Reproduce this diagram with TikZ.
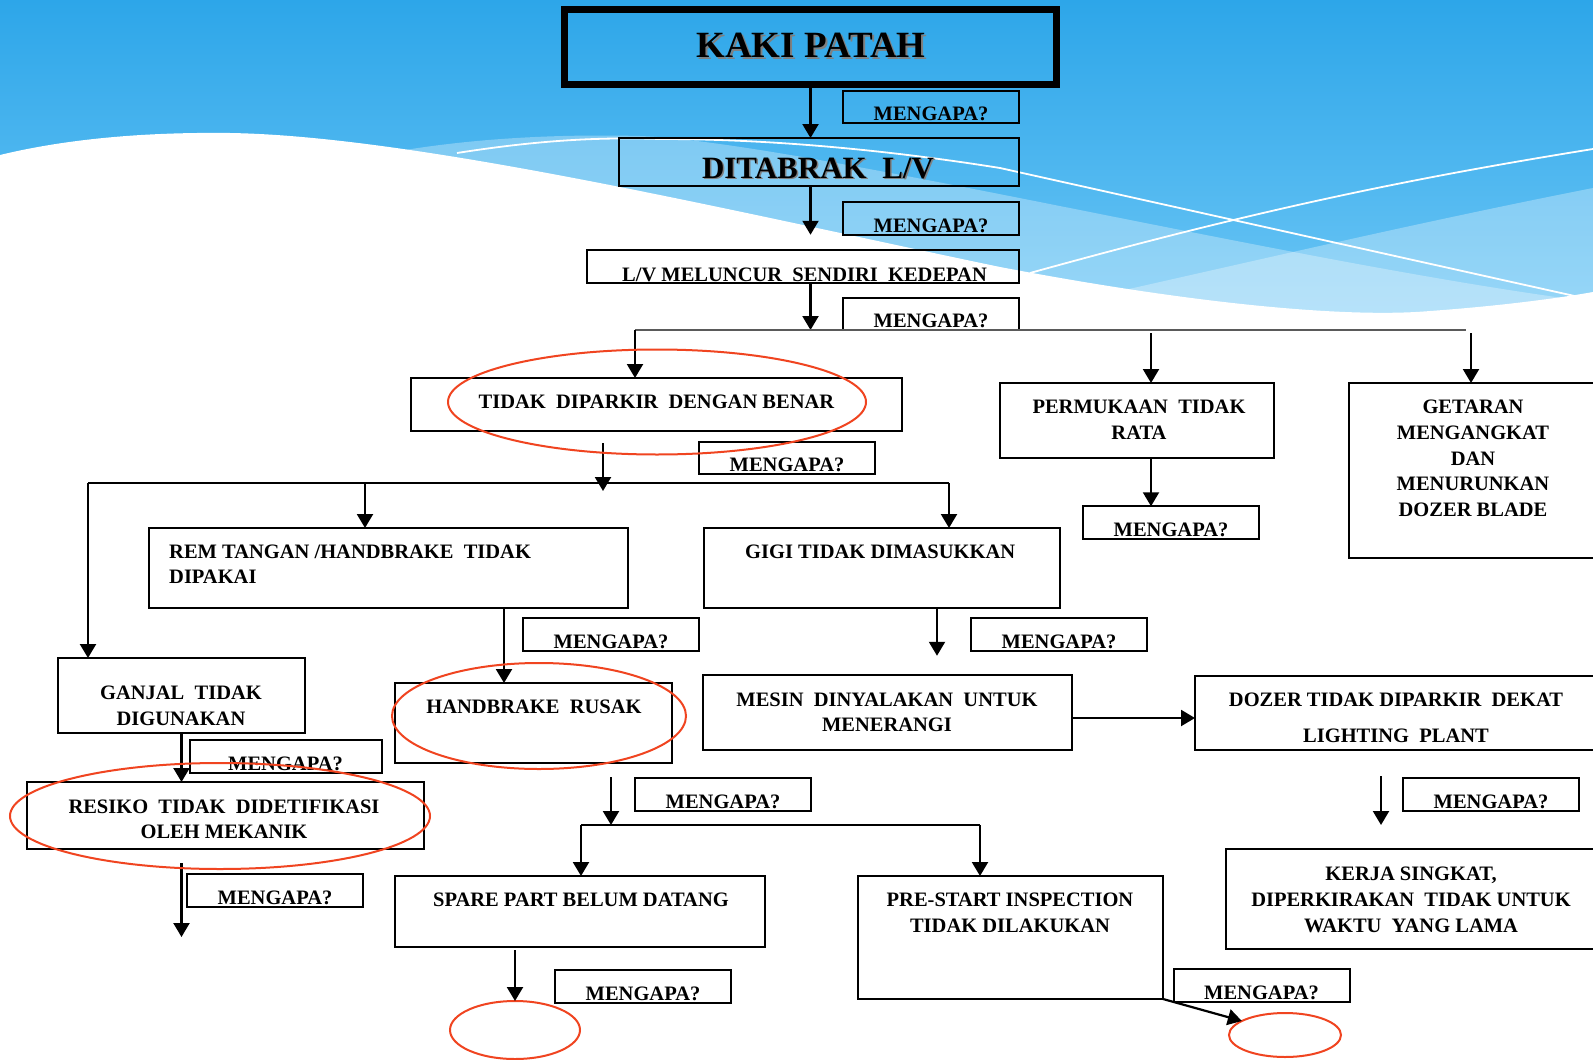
\documentclass[tikz,border=0pt]{standalone}
\usepackage{fontspec}
\setmainfont{Liberation Serif}
\usetikzlibrary{arrows.meta,shapes.geometric}
\definecolor{bgtop}{RGB}{45,166,233}
\definecolor{bgbot}{RGB}{112,200,246}
\definecolor{redc}{RGB}{240,68,32}
\definecolor{busgray}{RGB}{90,90,90}
\newcommand\bodyfont{\fontsize{20.5}{24}\selectfont\bfseries}
\newcommand\titlefont{\fontsize{37}{40}\selectfont\bfseries}
\newcommand\subtitlefont{\fontsize{31}{34}\selectfont\bfseries}
\begin{document}
\begin{tikzpicture}[x=1pt,y=-1pt,
  box/.style={draw, line width=2.2pt, inner sep=0pt, outer sep=0pt},
  mbox/.style={draw, line width=2pt, inner sep=0pt, outer sep=0pt, minimum width=176pt,
    text height=30pt, text depth=2.5pt, font=\bodyfont},
  tl/.style={font=\bodyfont, inner sep=0pt, anchor=base},
  tlw/.style={font=\bodyfont, inner sep=0pt, anchor=base west},
  arr/.style={line width=2.2pt, -{Triangle[length=14pt,width=16pt]}},
  bus/.style={line width=2.2pt},
  redell/.style={ellipse, draw=redc, line width=2pt, inner sep=0pt, outer sep=0pt}]
\useasboundingbox (0,0) rectangle (1593,1060);
\clip (0,0) rectangle (1593,1060);
% background
\shade[top color=bgtop, bottom color=bgbot] (0,0) rectangle (1593,340);
\fill[white, opacity=0.3] (405,150) .. controls (480,138) and (560,134) .. (640,136)
  .. controls (800,142) and (1300,265) .. (1593,302) -- (1593,340) -- (405,340) -- cycle;
\fill[white, opacity=0.3] (1080,300) .. controls (1250,262) and (1420,222) .. (1593,188)
  -- (1593,340) -- (1080,340) -- cycle;
\fill[white] (0,155) .. controls (70,138) and (150,132) .. (230,133)
  .. controls (420,136) and (750,215) .. (1000,267)
  .. controls (1200,305) and (1350,318) .. (1430,311)
  .. controls (1500,306) and (1560,298) .. (1593,292) -- (1593,1060) -- (0,1060) -- cycle;
\draw[white, line width=1.8pt] (457,153) .. controls (540,140) and (600,137) .. (660,139)
  .. controls (780,139) and (900,152) .. (1000,168) -- (1579,297);
\draw[white, line width=1.8pt] (1030,273) .. controls (1250,212) and (1400,180) .. (1593,149);

% boxes
\node[box, line width=7pt, minimum width=492pt, minimum height=75pt] (kaki) at (810.5,47) {};
\node[mbox] (m1) at (931,107) {MENGAPA?};
\node[box, minimum width=400pt, minimum height=48pt] (dit) at (819,162) {};
\node[mbox] (m2) at (931,218.5) {MENGAPA?};
\node[box, minimum width=432pt, minimum height=33pt] (lv) at (803,266.5) {};
\node[mbox] (m3) at (931,314) {MENGAPA?};
\node[box, minimum width=491pt, minimum height=53pt] (tdp) at (656.5,404.5) {};
\node[box, minimum width=274pt, minimum height=75pt] (perm) at (1137,420.5) {};
\node[box, minimum width=251pt, minimum height=175pt] (get) at (1474.5,470.5) {};
\node[mbox] (m4) at (787,458) {MENGAPA?};
\node[mbox] (m5) at (1171,522.5) {MENGAPA?};
\node[box, minimum width=479pt, minimum height=80pt] (rem) at (388.5,568) {};
\node[box, minimum width=356pt, minimum height=80pt] (gigi) at (882,568) {};
\node[mbox] (m6) at (611,634.5) {MENGAPA?};
\node[mbox] (m7) at (1059,634.5) {MENGAPA?};
\node[box, minimum width=247pt, minimum height=75pt] (ganjal) at (181.5,695.5) {};
\node[box, minimum width=277pt, minimum height=80pt] (hb) at (533.5,723) {};
\node[box, minimum width=369pt, minimum height=75pt] (mesin) at (887.5,712.5) {};
\node[box, minimum width=405pt, minimum height=74pt] (dozer) at (1397.5,713) {};
\node[mbox, minimum width=192pt] (m8) at (285.5,756.5) {MENGAPA?};
\node[box, minimum width=397pt, minimum height=67pt] (resiko) at (225.5,815.5) {};
\node[mbox] (m9) at (723,794.5) {MENGAPA?};
\node[mbox] (m10) at (1491,794.5) {MENGAPA?};
\node[mbox] (m11) at (275,890.5) {MENGAPA?};
\node[box, minimum width=370pt, minimum height=71pt] (spare) at (580,911.5) {};
\node[box, minimum width=305pt, minimum height=123pt] (pre) at (1010.5,937.5) {};
\node[box, minimum width=374pt, minimum height=100pt] (kerja) at (1413,899) {};
\node[mbox] (m12) at (643,986.5) {MENGAPA?};
\node[mbox] (m13) at (1261.5,985.5) {MENGAPA?};

% texts
\node[tl, font=\titlefont, text=black!50] (tkakis) at (813,59) {KAKI PATAH};
\node[tl, font=\titlefont] (tkaki) at (811,57) {KAKI PATAH};
\node[tl, font=\subtitlefont, text=black!50] (tdits) at (819.5,179.5) {DITABRAK~~L/V};
\node[tl, font=\subtitlefont] (tdit) at (818,178) {DITABRAK~~L/V};
\node[tl] (tlv) at (804.5,281) {L/V MELUNCUR~~SENDIRI~~KEDEPAN};
\node[tl] (ttdp) at (656.5,408) {TIDAK~~DIPARKIR~~DENGAN BENAR};
\node[tl] (tperm1) at (1139,413) {PERMUKAAN~~TIDAK};
\node[tl] (tperm2) at (1139,439) {RATA};
\node[tl] (tget1) at (1473,413) {GETARAN};
\node[tl] (tget2) at (1473,439) {MENGANGKAT};
\node[tl] (tget3) at (1473,465) {DAN};
\node[tl] (tget4) at (1473,490) {MENURUNKAN};
\node[tl] (tget5) at (1473,516) {DOZER BLADE};
\node[tlw] (trem1) at (169,558) {REM TANGAN /HANDBRAKE~~TIDAK};
\node[tlw] (trem2) at (169,583) {DIPAKAI};
\node[tlw] (tgigi) at (745,558) {GIGI TIDAK DIMASUKKAN};
\node[tl] (tganjal1) at (181,699) {GANJAL~~TIDAK};
\node[tl] (tganjal2) at (181,725) {DIGUNAKAN};
\node[tl] (thb) at (534,713) {HANDBRAKE~~RUSAK};
\node[tl] (tmesin1) at (887,706) {MESIN~~DINYALAKAN~~UNTUK};
\node[tl] (tmesin2) at (887,731) {MENERANGI};
\node[tl] (tdozer1) at (1396,706) {DOZER TIDAK DIPARKIR~~DEKAT};
\node[tl] (tdozer2) at (1396,742) {LIGHTING~~PLANT};
\node[tl] (tres1) at (224,813) {RESIKO~~TIDAK~~DIDETIFIKASI};
\node[tl] (tres2) at (224,838) {OLEH MEKANIK};
\node[tl] (tspare) at (581,906) {SPARE PART BELUM DATANG};
\node[tl] (tpre1) at (1010,906) {PRE-START INSPECTION};
\node[tl] (tpre2) at (1010,932) {TIDAK DILAKUKAN};
\node[tl] (tkerja1) at (1411,880) {KERJA SINGKAT,};
\node[tl] (tkerja2) at (1411,906) {DIPERKIRAKAN~~TIDAK UNTUK};
\node[tl] (tkerja3) at (1411,932) {WAKTU~~YANG LAMA};

% junction coordinates
\coordinate (b1l) at (635,330);
\coordinate (b1r) at (1466,330);
\coordinate (b1p) at (1151,333);
\coordinate (b1g) at (1471,333);
\coordinate (b2l) at (88,483);
\coordinate (b2r) at (949,483);
\coordinate (b2m) at (603,483);
\coordinate (b2rem) at (365,483);
\coordinate (xrh) at (504,0);
\coordinate (xgig) at (937,0);
\coordinate (rend) at (181.5,937);
\coordinate (b3l) at (581,825);
\coordinate (b3r) at (980,825);
\coordinate (b3m) at (611,825);
\coordinate (dz) at (1381,825);

% connectors
\draw[arr] (kaki.south) -- (kaki.south |- dit.north);
\draw[arr] (kaki.south |- dit.south) -- (kaki.south |- m2.south);
\draw[arr] (kaki.south |- lv.south) -- (kaki.south |- b1l);
\draw[bus, draw=busgray] (b1l) -- (b1r);
\draw[arr] (b1l) -- (b1l |- tdp.north);
\draw[arr] (b1p) -- (b1p |- perm.north);
\draw[arr] (b1g) -- (b1g |- get.north);
\draw[arr] (perm.south -| b1p) -- (m5.north -| b1p);
\draw[arr, shorten <=12pt, shorten >=-8pt] (b2m |- tdp.south) -- (b2m);
\draw[bus] (b2l) -- (b2r);
\draw[arr] (b2l) -- (b2l |- ganjal.north);
\draw[arr] (b2rem) -- (b2rem |- rem.north);
\draw[arr] (b2r) -- (b2r |- gigi.north);
\draw[arr] (rem.south -| xrh) -- (hb.north -| xrh);
\draw[arr, shorten >=-5pt] (gigi.south -| xgig) -- (m7.south -| xgig);
\draw[arr] ([yshift=-5.5pt]mesin.east) -- ([yshift=-5pt]dozer.west);
\draw[arr] (ganjal.south) -- (ganjal.south |- resiko.north);
\draw[arr, shorten <=14pt] (ganjal.south |- resiko.south) -- (rend);
\draw[arr, shorten <=14pt] (b3m |- hb.south) -- (b3m);
\draw[bus] (b3l) -- (b3r);
\draw[arr] (b3l) -- (b3l |- spare.north);
\draw[arr] (b3r) -- (b3r |- pre.north);
\draw[arr, shorten <=26pt] (dozer.south -| dz) -- (dz);

% red ellipses
\node[redell, minimum width=418pt, minimum height=105pt] (e1) at (657,402) {};
\node[redell, minimum width=294pt, minimum height=106pt] (e2) at (539,716) {};
\node[redell, minimum width=420pt, minimum height=106pt] (e3) at (220,816) {};
\node[redell, minimum width=130pt, minimum height=58pt] (e4) at (515,1030) {};
\node[redell, minimum width=112pt, minimum height=44pt] (e5) at (1285,1035) {};
\draw[arr, shorten <=3pt] (spare.south -| e4.north) -- (e4.north);
\draw[arr] (pre.south east) -- (e5.162);
\end{tikzpicture}
\end{document}
